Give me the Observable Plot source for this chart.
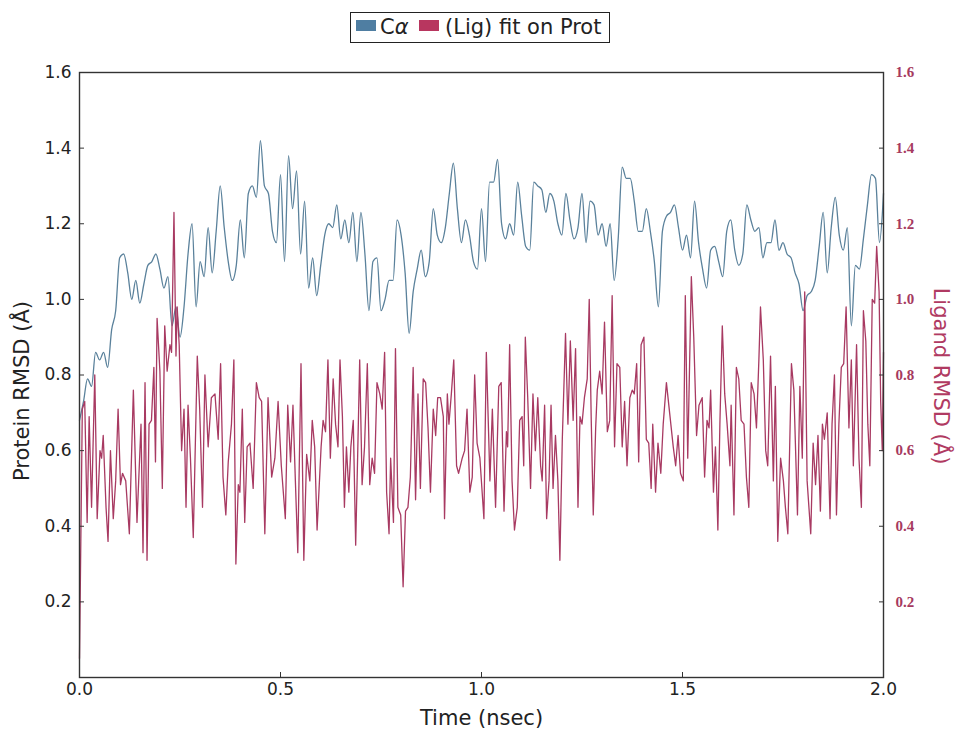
<!DOCTYPE html>
<html><head><meta charset="utf-8">
<script src="https://cdn.jsdelivr.net/npm/d3@7"></script>
<script src="https://cdn.jsdelivr.net/npm/@observablehq/plot@0.6"></script>
<style>
body{margin:0;background:#fff;width:955px;height:731px;overflow:hidden;position:relative;font-family:"DejaVu Sans",sans-serif;}
#legend{position:absolute;left:350px;top:12px;width:258px;height:29px;border:1.5px solid #222;font-size:21px;color:#222;background:#fff;}
#legend .sw{position:absolute;top:7px;width:20px;height:11px;}
#legend .tx{position:absolute;top:0;line-height:29px;white-space:nowrap;}
#chart{position:absolute;left:0;top:50px;}
</style></head><body>
<div id="legend">
  <span class="sw" style="left:5px;background:#4f7ea2"></span>
  <span class="tx" style="left:29px">C<i>α</i></span>
  <span class="sw" style="left:68px;background:#b8365f"></span>
  <span class="tx" style="left:94px">(Lig) fit on Prot</span>
</div>
<div id="chart"></div>
<script>
// Protein (Cα) RMSD, one value every 0.01 ns from 0.00 to 2.00 ns
const proteinStep = 0.01;
const proteinRmsd = [
  0.68,0.73,0.79,0.77,0.86,0.84,0.86,0.82,0.92,0.97,
  1.11,1.12,1.07,1.00,1.05,0.99,1.04,1.09,1.10,1.12,
  1.08,1.03,1.06,0.93,0.98,0.90,0.98,1.12,1.20,0.98,
  1.10,1.06,1.19,1.07,1.18,1.30,1.19,1.10,1.05,1.09,
  1.21,1.11,1.28,1.30,1.27,1.42,1.30,1.28,1.18,1.15,
  1.33,1.10,
  1.38,1.24,1.34,1.12,1.26,1.03,1.11,1.01,1.09,
  1.17,1.20,1.19,1.25,1.16,1.21,1.15,1.23,1.10,
  1.23,1.12,0.97,1.10,1.11,0.97,1.00,1.05,1.05,1.21,
  1.17,1.07,0.91,1.02,1.08,1.13,1.06,1.10,1.24,1.17,
  1.15,1.19,1.28,1.36,1.24,1.15,1.21,1.17,1.10,1.08,
  1.24,1.10,1.31,
  1.31,1.37,1.20,1.16,1.20,1.17,1.31,1.22,1.14,1.13,
  1.31,1.30,1.29,1.23,1.28,1.26,1.20,1.17,1.28,1.21,
  1.16,1.19,1.28,1.15,1.26,1.25,1.17,1.20,1.14,1.20,
  1.05,1.16,1.35,1.32,1.32,1.26,1.18,1.18,1.24,1.18,
  1.10,0.98,1.18,1.22,1.23,1.25,1.19,1.13,1.17,1.11,
  1.26,1.15,1.08,1.03,1.13,1.14,1.10,1.06,
  1.18,1.21,1.13,1.09,1.12,1.25,1.21,1.18,1.19,1.11,
  1.15,1.15,1.21,1.13,1.15,1.12,1.11,1.07,1.04,0.97,
  1.01,1.02,1.05,1.14,1.23,1.07,1.19,1.27,1.17,1.13,
  1.19,0.93,1.09,1.08,1.16,1.25,1.33,1.32,1.15,1.28
];

// Ligand RMSD: sample times (ns) and values (Å)
const ligandTime = [
  0,0.007,0.013,0.019,0.024,0.030,0.038,0.044,0.051,0.055,
  0.059,0.066,0.071,0.077,0.084,0.090,0.096,0.102,0.107,0.115,
  0.124,0.134,0.143,0.153,0.158,0.163,0.168,0.173,0.179,0.185,
  0.189,0.193,0.200,0.206,0.212,0.218,0.225,0.229,0.235,0.240,
  0.243,0.248,0.254,0.260,0.265,0.270,0.276,0.283,0.293,0.299,
  0.306,0.312,0.320,0.328,0.337,0.345,0.351,0.357,0.364,0.370,
  0.378,0.384,0.389,0.395,0.399,0.405,0.411,0.417,0.424,0.432,
  0.440,0.447,0.453,0.461,0.469,0.478,0.486,0.494,0.502,
  0.512,0.518,0.525,0.531,0.537,0.543,0.551,0.558,0.565,0.573,
  0.579,0.585,0.591,0.601,0.606,0.612,0.618,0.624,0.631,0.637,
  0.643,0.648,0.654,0.659,0.664,0.670,0.675,0.681,0.687,0.692,
  0.697,0.703,0.709,0.716,0.722,0.728,0.734,0.740,0.747,0.753,
  0.759,0.764,0.770,0.774,0.781,0.786,0.792,0.799,0.805,0.811,
  0.817,0.823,0.830,0.836,0.842,0.848,0.855,0.861,0.867,0.873,
  0.880,0.886,0.891,0.898,0.905,0.908,0.915,0.919,0.925,0.931,
  0.938,0.943,0.952,0.958,0.964,0.971,0.977,0.983,0.989,0.996,
  1.006,1.012,1.021,1.027,1.035,1.043,1.049,1.056,1.062,1.065,
  1.070,1.076,1.082,1.089,1.095,1.101,1.105,1.109,1.115,1.122,
  1.128,1.134,1.140,1.147,1.151,1.157,1.162,1.168,1.173,1.178,
  1.184,1.190,1.195,1.201,1.209,1.215,1.221,1.228,1.234,1.240,
  1.245,1.250,1.256,1.263,1.268,1.273,1.278,1.284,1.288,1.294,
  1.300,1.306,1.313,1.319,1.325,1.331,1.337,1.344,1.350,1.356,
  1.362,1.369,1.375,1.380,1.386,1.391,1.397,1.404,1.410,1.416,
  1.422,1.426,1.433,1.439,1.446,1.452,1.460,1.468,1.477,1.483,
  1.489,
  1.495,1.502,1.507,1.513,1.522,1.528,1.535,1.541,1.549,1.555,
  1.561,1.566,1.570,1.577,1.582,1.588,1.593,1.599,1.605,1.611,
  1.618,1.621,1.628,1.634,1.640,1.646,1.653,1.659,1.665,1.671,
  1.678,1.684,1.690,1.694,1.701,1.707,1.712,1.719,1.726,1.731,
  1.737,1.744,1.751,1.756,1.762,1.771,1.777,1.786,1.792,1.798,
  1.804,1.810,1.819,1.825,1.831,1.837,1.843,1.848,1.853,1.860,
  1.867,1.872,1.878,1.883,1.889,1.895,1.901,1.907,1.914,1.920,
  1.925,1.933,1.939,1.945,1.950,1.956,1.961,1.966,1.972,1.978,
  1.983,1.989,1.993,1.997,2.000
];
const ligandRmsd = [
  0.05,0.71,0.73,0.41,0.69,0.45,0.80,0.42,0.60,0.58,
  0.64,0.45,0.36,0.60,0.42,0.52,0.71,0.51,0.54,0.52,
  0.38,0.76,0.41,0.67,0.33,0.78,0.31,0.67,0.68,0.82,
  0.57,0.95,0.81,0.50,0.93,0.81,0.88,0.86,1.23,0.85,
  0.98,0.88,0.60,0.71,0.45,0.72,0.58,0.37,0.85,0.71,
  0.45,0.80,0.61,0.74,0.75,0.63,0.83,0.53,0.43,0.57,
  0.67,0.84,0.30,0.51,0.49,0.71,0.41,0.61,0.62,0.50,
  0.78,0.74,0.73,0.38,0.74,0.53,0.58,0.73,0.56,
  0.42,0.72,0.57,0.72,0.52,0.33,0.83,0.31,0.59,0.52,
  0.68,0.61,0.39,0.61,0.68,0.65,0.84,0.58,0.79,0.67,
  0.61,0.84,0.69,0.45,0.61,0.49,0.61,0.68,0.35,0.59,
  0.84,0.51,0.61,0.83,0.51,0.58,0.54,0.78,0.75,0.71,
  0.86,0.49,0.38,0.58,0.41,0.87,0.45,0.43,0.24,0.44,
  0.45,0.53,0.82,0.47,0.75,0.50,0.79,0.78,0.66,0.49,
  0.71,0.64,0.74,0.74,0.69,0.42,0.75,0.67,0.75,0.84,
  0.56,0.54,0.58,0.60,0.71,0.49,0.53,0.80,0.62,0.58,
  0.42,0.86,0.52,0.71,0.45,0.77,0.78,0.44,0.65,0.61,
  0.88,0.52,0.39,0.45,0.68,0.69,0.56,0.90,0.74,0.50,
  0.75,0.60,0.74,0.56,0.52,0.72,0.42,0.52,0.72,0.50,
  0.64,0.52,0.31,0.63,0.91,0.67,0.89,0.68,0.87,0.45,
  0.69,0.67,0.74,0.79,1.00,0.68,0.43,0.66,0.76,0.81,
  0.75,0.94,0.65,0.68,1.01,0.61,0.83,0.82,0.61,0.73,
  0.56,0.74,0.76,0.75,0.83,0.57,0.88,0.90,0.63,0.62,
  0.50,0.67,0.49,0.62,0.54,0.67,0.78,0.70,0.61,0.56,
  0.64,
  0.54,0.52,1.01,0.58,1.06,0.90,0.64,0.72,0.74,0.53,
  0.68,0.66,0.76,0.49,0.61,0.39,0.67,0.93,0.75,0.67,
  0.56,0.72,0.43,0.82,0.79,0.68,0.67,0.53,0.45,0.78,
  0.75,0.66,0.84,0.98,0.84,0.60,0.56,0.85,0.52,0.77,
  0.36,0.58,0.52,0.45,0.38,0.83,0.76,0.43,0.77,0.58,
  1.02,0.52,0.38,0.62,0.51,0.64,0.44,0.67,0.63,0.70,
  0.42,0.67,0.80,0.43,0.67,0.82,0.83,0.98,0.66,0.84,
  0.56,0.88,0.58,0.45,0.97,0.89,0.67,0.56,1.00,0.99,
  1.14,1.02,0.73,0.60,0.86
];

const xTicks = [0, 0.5, 1.0, 1.5, 2.0];
const yTicks = [0.2, 0.4, 0.6, 0.8, 1.0, 1.2, 1.4, 1.6];
const xTitle = "Time (nsec)";
const yLeftTitle = "Protein RMSD (Å)";
const yRightTitle = "Ligand RMSD (Å)";

const protein = proteinRmsd.map((v, i) => ({t: +(i * proteinStep).toFixed(3), v}));
const n = Math.min(ligandTime.length, ligandRmsd.length);
const ligand = ligandTime.slice(0, n).map((t, i) => ({t, v: ligandRmsd[i]}));

const chart = Plot.plot({
  width: 955,
  height: 681,
  marginLeft: 79,
  marginRight: 72,
  marginTop: 22,
  marginBottom: 54,
  style: "font-family:'DejaVu Sans',sans-serif;font-size:17px;color:#222;background:transparent;overflow:visible;",
  x: {domain: [0, 2]},
  y: {domain: [0, 1.6]},
  marks: [
    Plot.line(protein, {x: "t", y: "v", stroke: "#5a819b", strokeWidth: 1.3, curve: "monotone-x"}),
    Plot.line(ligand, {x: "t", y: "v", stroke: "#a83a62", strokeWidth: 1.3}),
    Plot.frame({stroke: "#333", strokeWidth: 1.4}),
    Plot.axisX({ticks: xTicks, tickFormat: ".1f", tickSize: -5, tickPadding: 10, label: null, stroke: "#333"}),
    Plot.axisY({anchor: "left", ticks: yTicks, tickFormat: ".1f", tickSize: -5, tickPadding: 13, label: null, stroke: "#333"}),
    Plot.axisY({anchor: "right", ticks: yTicks, tickFormat: ".1f", tickSize: -5, tickPadding: 17, label: null,
      stroke: "#333", fill: "#a63a60", fontFamily: "'Liberation Serif', serif", fontWeight: "bold", fontSize: 15}),
    Plot.text([xTitle], {frameAnchor: "bottom", textAnchor: "middle", lineAnchor: "middle", dy: 41, fontSize: 21, fill: "#222"}),
    Plot.text([yLeftTitle], {frameAnchor: "left", textAnchor: "middle", lineAnchor: "middle", rotate: -90, dx: -57, dy: 16, fontSize: 21, fill: "#222"}),
    Plot.text([yRightTitle], {frameAnchor: "right", textAnchor: "middle", lineAnchor: "middle", rotate: 90, dx: 57, dy: 1, fontSize: 21, fill: "#b03a62"})
  ]
});
document.getElementById("chart").append(chart);
</script>
</body></html>
